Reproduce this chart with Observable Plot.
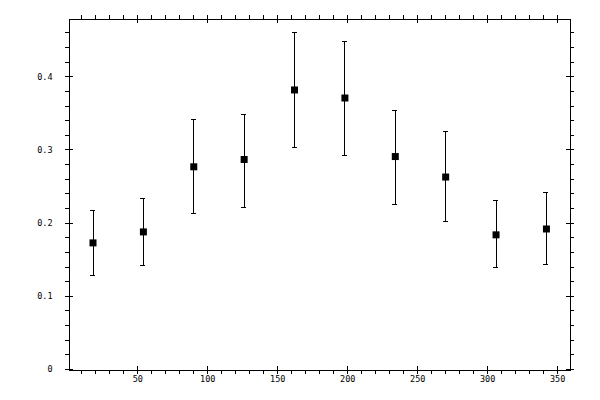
<!DOCTYPE html>
<html>
<head>
<meta charset="utf-8">
<script src="https://cdn.jsdelivr.net/npm/d3@7"></script>
<script src="https://cdn.jsdelivr.net/npm/@observablehq/plot@0.6"></script>
<style>
  html, body { margin: 0; padding: 0; background: white; }
</style>
</head>
<body>
<div id="chart"></div>
<script>
const xs = [18, 54, 90, 126, 162, 198, 234, 270, 306, 342];
const ys = [0.173, 0.188, 0.277, 0.287, 0.382, 0.371, 0.291, 0.263, 0.184, 0.192];
const los = [0.128, 0.142, 0.213, 0.222, 0.304, 0.293, 0.226, 0.202, 0.139, 0.143];
const his = [0.217, 0.233, 0.341, 0.349, 0.460, 0.448, 0.354, 0.325, 0.231, 0.242];

const xMajor = [50, 100, 150, 200, 250, 300, 350];
const xMajorLabels = ["50", "100", "150", "200", "250", "300", "350"];
const xMinor = [10, 20, 30, 40, 60, 70, 80, 90, 110, 120, 130, 140, 160, 170, 180, 190, 210, 220, 230, 240, 260, 270, 280, 290, 310, 320, 330, 340];
const yMajor = [0, 0.1, 0.2, 0.3, 0.4];
const yMajorLabels = ["0", "0.1", "0.2", "0.3", "0.4"];
const yMinor = [0.02, 0.04, 0.06, 0.08, 0.12, 0.14, 0.16, 0.18, 0.22, 0.24, 0.26, 0.28, 0.32, 0.34, 0.36, 0.38, 0.42, 0.44, 0.46];

const data = xs.map((x, i) => ({x, y: ys[i], lo: los[i], hi: his[i]}));

const W = 600, H = 400, mL = 69, mR = 30, mT = 19, mB = 30;
const fw = W - mL - mR, fh = H - mT - mB;
const font = "DejaVu Sans Mono";
const fs = 8.5;
const crisp = {stroke: "black", strokeWidth: 1, shapeRendering: "crispEdges"};

const chart = Plot.plot({
  width: W,
  height: H,
  marginLeft: mL,
  marginRight: mR,
  marginTop: mT,
  marginBottom: mB,
  style: {fontFamily: font, fontSize: fs + "px", background: "white", color: "black"},
  x: {domain: [1.2, 359.2], axis: null},
  y: {domain: [-0.0014, 0.4783], axis: null},
  marks: [
    Plot.frame({...crisp}),
    // x minor ticks (outward)
    Plot.ruleX(xMinor, {x: d => d, insetTop: fh, insetBottom: -4, ...crisp}),
    Plot.ruleX(xMinor, {x: d => d, insetTop: -4, insetBottom: fh, ...crisp}),
    // x major ticks (crossing)
    Plot.ruleX(xMajor, {x: d => d, insetTop: fh - 4, insetBottom: -4, ...crisp}),
    Plot.ruleX(xMajor, {x: d => d, insetTop: -4, insetBottom: fh - 4, ...crisp}),
    // y minor ticks (outward)
    Plot.ruleY(yMinor, {y: d => d, insetLeft: -4, insetRight: fw, ...crisp}),
    Plot.ruleY(yMinor, {y: d => d, insetLeft: fw, insetRight: -4, ...crisp}),
    // y major ticks (crossing)
    Plot.ruleY(yMajor, {y: d => d, insetLeft: -4, insetRight: fw - 4, ...crisp}),
    Plot.ruleY(yMajor, {y: d => d, insetLeft: fw - 4, insetRight: -4, ...crisp}),
    // tick labels
    Plot.text(xMajor, {x: d => d, text: (d, i) => xMajorLabels[i], frameAnchor: "bottom", dy: 11, fontSize: fs, fill: "black"}),
    Plot.text(yMajor, {y: d => d, text: (d, i) => yMajorLabels[i], frameAnchor: "left", dx: -17, textAnchor: "end", fontSize: fs, fill: "black"}),
    // error bars
    Plot.ruleX(data, {x: "x", y1: "lo", y2: "hi", ...crisp}),
    Plot.ruleY(data, {y: "hi", x1: "x", x2: "x", insetLeft: -2.5, insetRight: -2.5, ...crisp}),
    Plot.ruleY(data, {y: "lo", x1: "x", x2: "x", insetLeft: -2.5, insetRight: -2.5, ...crisp}),
    // markers
    Plot.dot(data, {x: "x", y: "y", symbol: "square", r: 3.95, fill: "black", stroke: null})
  ]
});
document.getElementById("chart").appendChild(chart);
</script>
</body>
</html>
